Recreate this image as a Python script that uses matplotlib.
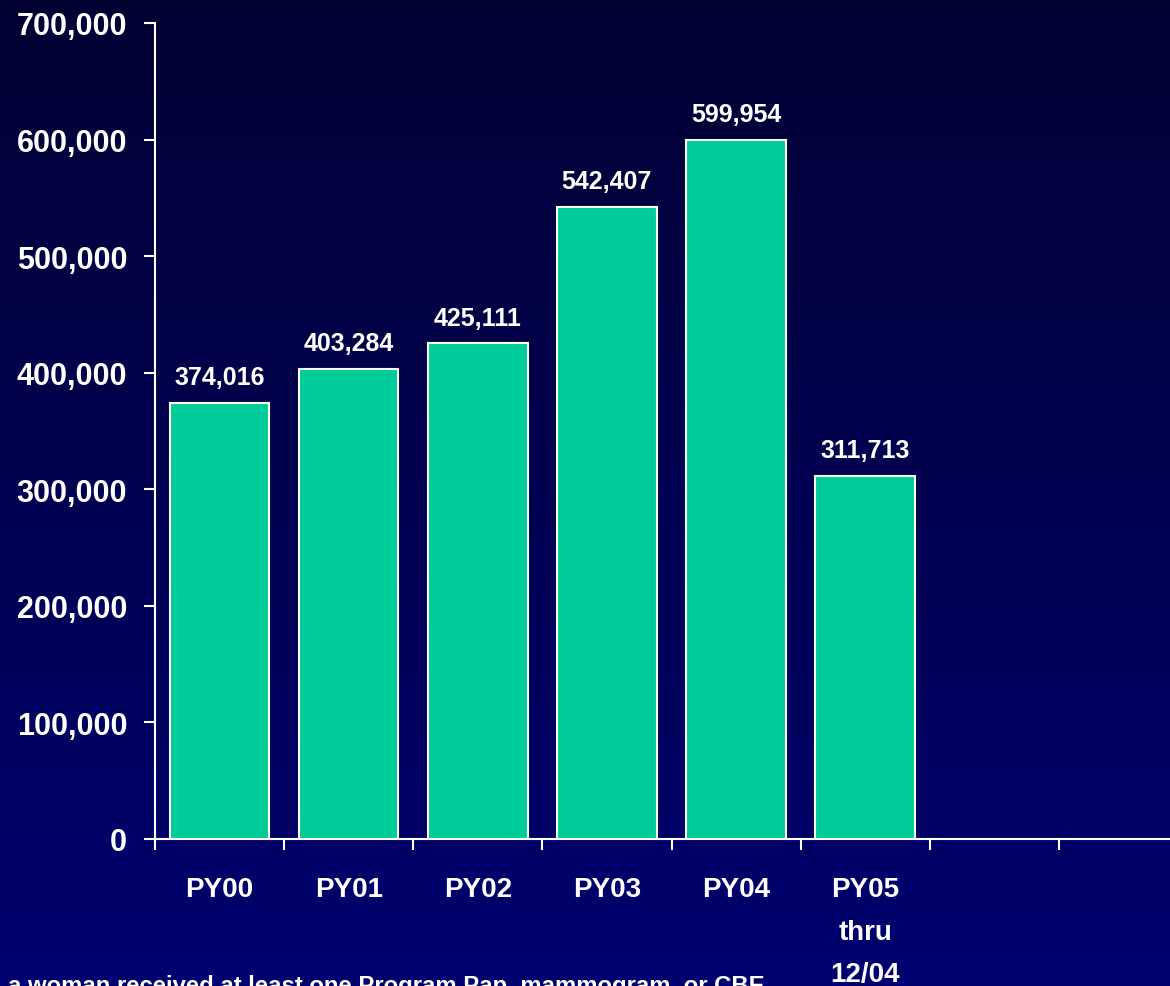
import matplotlib
matplotlib.use("Agg")
import matplotlib.pyplot as plt
import numpy as np
from matplotlib.ticker import FuncFormatter
from matplotlib.colors import LinearSegmentedColormap

categories = ["PY00", "PY01", "PY02", "PY03", "PY04", "PY05\nthru\n12/04", "", ""]
values = [374016, 403284, 425111, 542407, 599954, 311713]
yticks = [0, 100000, 200000, 300000, 400000, 500000, 600000, 700000]
footnote = "a woman received at least one Program Pap, mammogram, or CBE"

FONT = ["Liberation Sans", "DejaVu Sans"]
plt.rcParams["font.family"] = FONT
plt.rcParams["font.weight"] = "bold"

W, H = 1170, 987
fig = plt.figure(figsize=(W / 100, H / 100), dpi=100)

# gradient background
bg = fig.add_axes([0, 0, 1, 1], zorder=-10)
cmap = LinearSegmentedColormap.from_list("bg", ["#020233", "#000070"])
grad = np.linspace(0, 1, 256).reshape(-1, 1)
bg.imshow(grad, aspect="auto", cmap=cmap, extent=[0, 1, 0, 1], origin="upper")
bg.axis("off")

left = 155 / W
right = 1188 / W
bottom = (H - 840) / H
top = (H - 24) / H
ax = fig.add_axes([left, bottom, right - left, top - bottom])
ax.set_facecolor("none")

n_slots = len(categories)
x = np.arange(len(values))
bars = ax.bar(x, values, width=0.77, color="#00CC99", edgecolor="white", linewidth=1.5, zorder=3)

ax.set_xlim(-0.5, n_slots - 0.5)
ax.set_ylim(0, 700000)
ax.set_yticks(yticks)
ax.yaxis.set_major_formatter(FuncFormatter(lambda v, p: f"{int(v):,}"))
ax.set_xticks(np.arange(n_slots + 1) - 0.5, minor=False)
ax.set_xticklabels([])
ax.set_xticks(np.arange(n_slots), minor=True)
ax.set_xticklabels(categories, minor=True)

for s in ["top", "right"]:
    ax.spines[s].set_visible(False)
for s in ["left", "bottom"]:
    ax.spines[s].set_color("white")
    ax.spines[s].set_linewidth(1.5)

ax.tick_params(axis="y", which="major", colors="white", length=8, width=1.5, pad=12,
               labelsize=22, labelcolor="white")
ax.tick_params(axis="x", which="major", colors="white", length=8, width=1.5)
ax.tick_params(axis="x", which="minor", length=0, pad=27, labelsize=20, labelcolor="white")
for lbl in ax.get_xticklabels(minor=True):
    lbl.set_fontweight("bold")
    lbl.set_linespacing(1.82)
    lbl.set_verticalalignment("top")
for lbl in ax.get_yticklabels():
    lbl.set_fontweight("bold")

for rect, v in zip(bars, values):
    ax.annotate(f"{v:,}", (rect.get_x() + rect.get_width() / 2, v),
                xytext=(0, 10), textcoords="offset points", ha="center", va="bottom",
                color="white", fontsize=18, fontweight="bold")

fig.text(8 / W, 1 - 975 / H, footnote, color="white", fontsize=17.2, fontweight="bold",
         ha="left", va="top")

fig.savefig("out.png", dpi=100)
